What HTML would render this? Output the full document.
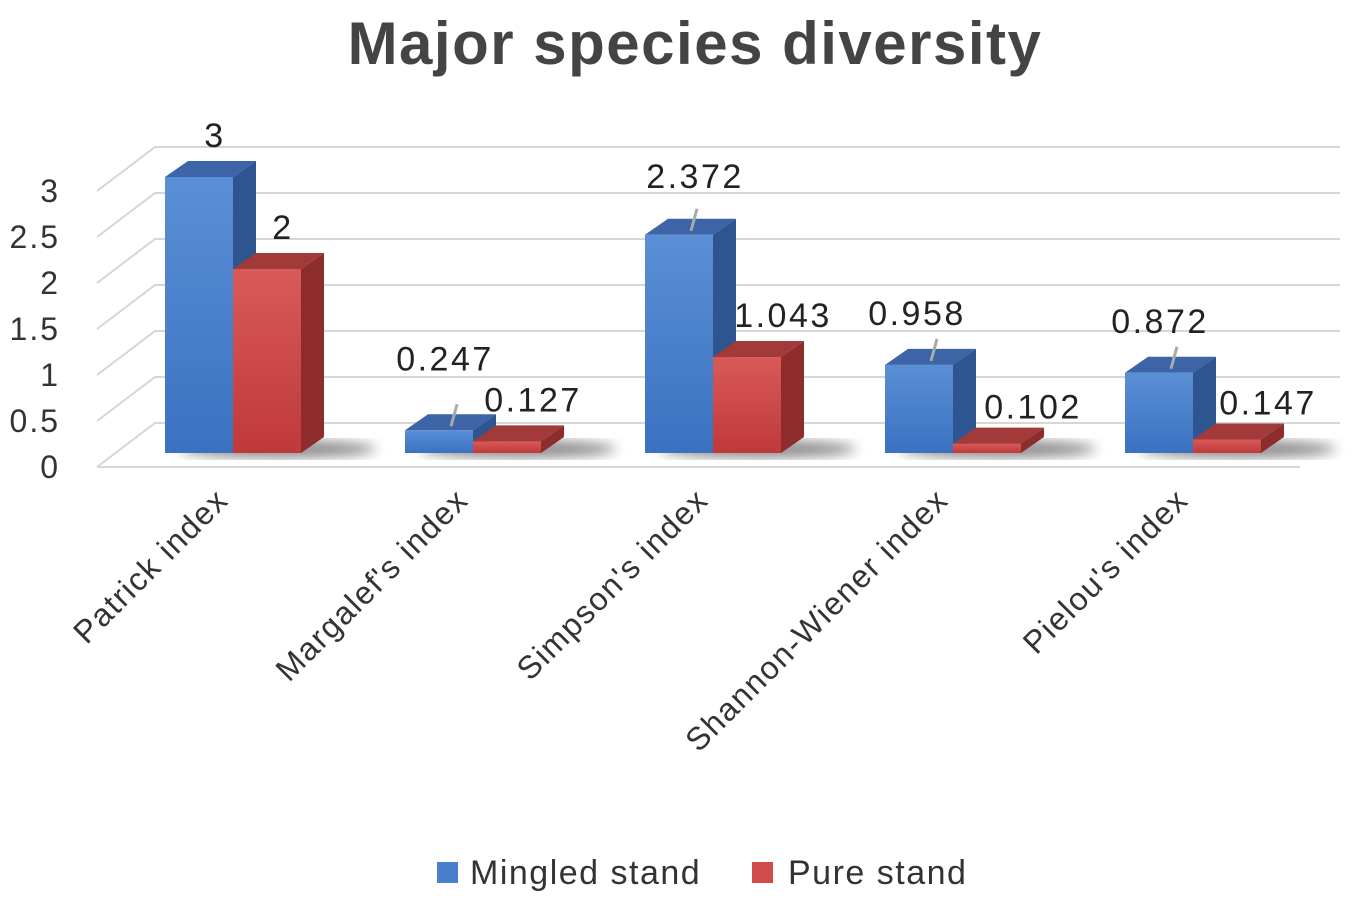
<!DOCTYPE html>
<html><head><meta charset="utf-8"><style>
body{margin:0;background:#fff}
svg{display:block;font-family:"Liberation Sans","DejaVu Sans",sans-serif}
</style></head><body>
<svg id="chart" width="1361" height="898" viewBox="0 0 1361 898">
<defs>
<linearGradient id="gb" x1="0" y1="0" x2="0" y2="1"><stop offset="0" stop-color="#5b8fd6"/><stop offset="1" stop-color="#3a72c0"/></linearGradient>
<linearGradient id="gr" x1="0" y1="0" x2="0" y2="1"><stop offset="0" stop-color="#d85a58"/><stop offset="1" stop-color="#c0393a"/></linearGradient>
<filter id="blur"><feGaussianBlur stdDeviation="6"/></filter>
</defs>
<text x="695" y="64" text-anchor="middle" font-size="60" font-weight="bold" letter-spacing="1.5" fill="#444">Major species diversity</text>
<g id="grid"></g><g id="bars"></g><g id="labels"></g>
<g>
<rect x="437" y="862" width="21" height="21" fill="#4a7fcc"/>
<text x="470" y="884" font-size="34" letter-spacing="1.5" fill="#333">Mingled stand</text>
<rect x="752" y="862" width="21" height="21" fill="#d04c4a"/>
<text x="788" y="884" font-size="34" letter-spacing="1.5" fill="#333">Pure stand</text>
</g>
</svg>
<script>
const categories=["Patrick index","Margalef's index","Simpson's index","Shannon-Wiener index","Pielou's index"];
const mingled=[3,0.247,2.372,0.958,0.872];
const pure=[2,0.127,1.043,0.102,0.147];
const mingledLabels=["3","0.247","2.372","0.958","0.872"];
const pureLabels=["2","0.127","1.043","0.102","0.147"];
const yTicks=[0,0.5,1,1.5,2,2.5,3];
const yTickLabels=["0","0.5","1","1.5","2","2.5","3"];
const NS="http://www.w3.org/2000/svg";
const base=453,unit=92,dx=23,dy=-16,bw=68,x0=165,step=240;
const y=v=>base-v*unit;
function mk(tag,attrs,parent){const e=document.createElementNS(NS,tag);for(const k in attrs)e.setAttribute(k,attrs[k]);parent.appendChild(e);return e;}
const grid=document.getElementById('grid'),bars=document.getElementById('bars'),labels=document.getElementById('labels');
yTicks.forEach((t,i)=>{
  const by=y(t)-30, fy=y(t)+14;
  const l=mk('polyline',{points:`97,${fy} 155,${by} 1340,${by}`,fill:'none',stroke:'#d6d6d6','stroke-width':2},grid);
  
  
  const tx=mk('text',{x:60,y:y(t)+25,'text-anchor':'end','font-size':32,'letter-spacing':2,fill:'#333'},grid);
  tx.textContent=yTickLabels[i];
  
  
});
const fl=mk('line',{x1:97,y1:467,x2:1300,y2:467,stroke:'#d6d6d6','stroke-width':2},grid);


function bar(x,v,front,top,side,name){
  const g=mk('g',{},bars);
  
  
  const t=y(v);
  mk('rect',{x:x,y:t,width:bw,height:base-t,fill:front},g);
  mk('polygon',{points:`${x},${t} ${x+dx},${t+dy} ${x+bw+dx},${t+dy} ${x+bw},${t}`,fill:top},g);
  mk('polygon',{points:`${x+bw},${t} ${x+bw+dx},${t+dy} ${x+bw+dx},${base+dy} ${x+bw},${base}`,fill:side},g);
}
const mOff=[[50,-30],[40,-60],[50,-47],[32,-40],[35,-40]];
const pOff=[[50,-30],[60,-30],[70,-30],[80,-25],[75,-25]];
categories.forEach((c,i)=>{
  const x=x0+i*step;
  const sh=mk('ellipse',{cx:x+bw+45,cy:base-4,rx:bw+30,ry:9,fill:'#333',opacity:0.55,filter:'url(#blur)'},bars);
  
  
  bar(x,mingled[i],'url(#gb)','#3c64a6','#2f5590','bar-mingled-'+i);
  bar(x+bw,pure[i],'url(#gr)','#a13a39','#8c2d2c','bar-pure-'+i);
  const mt=y(mingled[i]);
  if(i>0){const ll=mk('line',{x1:x+bw/2+12,y1:mt-4,x2:x+bw/2+18,y2:mt-26,stroke:'#aaa','stroke-width':3},labels);
    
    }
  const a=mk('text',{x:x+mOff[i][0],y:mt+mOff[i][1],'text-anchor':'middle','font-size':34,'letter-spacing':2.5,fill:'#222'},labels);
  a.textContent=mingledLabels[i];
  
  
  const pt=y(pure[i]);
  const b=mk('text',{x:x+bw+pOff[i][0],y:pt+pOff[i][1],'text-anchor':'middle','font-size':34,'letter-spacing':2.5,fill:'#222'},labels);
  b.textContent=pureLabels[i];
  
  
  const xl=mk('text',{x:x+65,y:502,'text-anchor':'end','font-size':32,'letter-spacing':1.5,fill:'#333',transform:`rotate(-45 ${x+65} 502)`},labels);
  xl.textContent=c;
  
  
});
</script>
</body></html>
